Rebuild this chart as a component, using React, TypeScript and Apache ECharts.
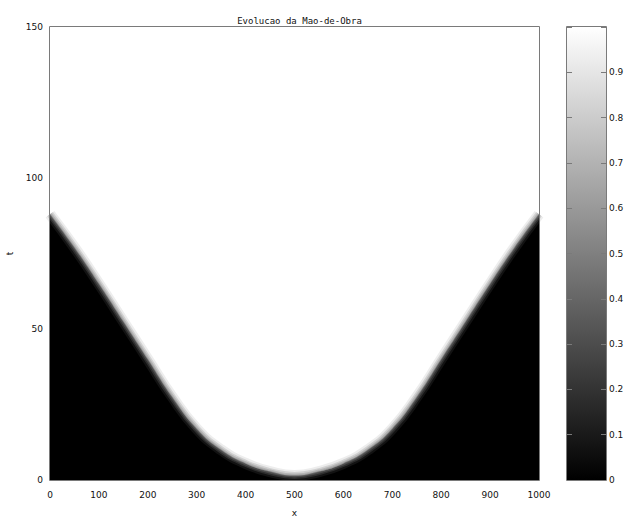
import React, { useEffect, useRef } from "react";
import * as echarts from "echarts";

// Front position t(x) of the labour field (black below, white above)
const xPositions = [0, 50, 100, 150, 200, 250, 300, 350, 400, 450, 500, 550, 600, 650, 700, 750, 800, 850, 900, 950, 1000];
const frontT = [88, 77, 65, 52.5, 40, 27.5, 17, 10, 5.5, 2.8, 1.5, 2.8, 5.5, 10, 17, 27.5, 40, 52.5, 65, 77, 88];

// Colour scale bar
const scaleCategories = [""];
const scaleValues = [1];

const TITLE = "Evolucao da Mao-de-Obra";

const PLOT = { left: 50, top: 27, width: 489, height: 453 };
const BAR = { left: 567, top: 27, width: 39, height: 453 };
const FRAME = "#7a7a7a";
const LABEL_FONT = { fontFamily: "DejaVu Sans", fontSize: 9, color: "#111" };

// Soft edge of the front: translucent grey strokes layered over the hard edge
const EDGE_STROKES = [
  { width: 11, opacity: 0.14 },
  { width: 7, opacity: 0.26 },
  { width: 4, opacity: 0.35 },
  { width: 1.5, opacity: 0.45 },
];

export default function App() {
  const ref = useRef<HTMLDivElement>(null);

  useEffect(() => {
    if (!ref.current) return;
    const chart = echarts.init(ref.current, undefined, { renderer: "svg" });

    const frontData = xPositions.map((x, i) => [x, frontT[i]]);

    const edgeSeries = EDGE_STROKES.map((s) => ({
      type: "line",
      xAxisIndex: 0,
      yAxisIndex: 0,
      data: frontData,
      smooth: 0.5,
      showSymbol: false,
      clip: true,
      silent: true,
      lineStyle: { color: "#808080", width: s.width, opacity: s.opacity, cap: "butt" },
    }));

    const option = {
      animation: false,
      backgroundColor: "#ffffff",
      title: {
        text: TITLE,
        left: PLOT.left + PLOT.width / 2,
        textAlign: "center",
        top: 11,
        textStyle: { fontFamily: "DejaVu Sans Mono", fontSize: 9, fontWeight: "normal", color: "#111" },
      },
      grid: [
        { left: PLOT.left, top: PLOT.top, width: PLOT.width, height: PLOT.height, containLabel: false, outerBoundsMode: "none" },
        { left: BAR.left, top: BAR.top, width: BAR.width, height: BAR.height, containLabel: false, outerBoundsMode: "none" },
      ],
      xAxis: [
        {
          gridIndex: 0,
          type: "value",
          min: 0,
          max: 1000,
          interval: 100,
          name: "x",
          nameLocation: "middle",
          nameGap: 28,
          nameTextStyle: { ...LABEL_FONT },
          axisLine: { show: false },
          axisTick: { show: false },
          splitLine: { show: false },
          axisLabel: { ...LABEL_FONT, margin: 10, formatter: (v: number) => String(v) },
        },
        {
          gridIndex: 1,
          type: "category",
          data: scaleCategories,
          show: false,
        },
      ],
      yAxis: [
        {
          gridIndex: 0,
          type: "value",
          min: 0,
          max: 150,
          interval: 50,
          name: "t",
          nameLocation: "middle",
          nameGap: 36,
          nameTextStyle: { ...LABEL_FONT },
          axisLine: { show: false },
          axisTick: { show: false },
          splitLine: { show: false },
          axisLabel: { ...LABEL_FONT, margin: 7, formatter: (v: number) => String(v) },
        },
        {
          gridIndex: 1,
          type: "value",
          position: "right",
          min: 0,
          max: 1,
          interval: 0.1,
          z: 10,
          axisLine: { show: false },
          splitLine: { show: false },
          axisTick: { show: true, inside: true, length: 5, lineStyle: { color: FRAME } },
          axisLabel: {
            ...LABEL_FONT,
            margin: 3,
            formatter: (v: number) => (v >= 0.999 ? "" : v === 0 ? "0" : v.toFixed(1)),
          },
        },
        {
          gridIndex: 1,
          type: "value",
          position: "left",
          min: 0,
          max: 1,
          interval: 0.1,
          z: 10,
          axisLine: { show: false },
          splitLine: { show: false },
          axisTick: { show: true, inside: true, length: 5, lineStyle: { color: FRAME } },
          axisLabel: { show: false },
        },
      ],
      series: [
        {
          type: "line",
          xAxisIndex: 0,
          yAxisIndex: 0,
          data: frontData,
          smooth: 0.5,
          showSymbol: false,
          clip: true,
          lineStyle: { width: 0 },
          areaStyle: { color: "#000000", opacity: 1, origin: "start" },
          silent: true,
        },
        ...edgeSeries,
        {
          type: "bar",
          xAxisIndex: 1,
          yAxisIndex: 1,
          data: scaleValues,
          barWidth: "100%",
          barCategoryGap: 0,
          silent: true,
          itemStyle: {
            color: new echarts.graphic.LinearGradient(0, 1, 0, 0, [
              { offset: 0, color: "#000000" },
              { offset: 1, color: "#ffffff" },
            ]),
          },
        },
      ],
      graphic: [
        {
          type: "rect",
          z: 100,
          silent: true,
          shape: { x: PLOT.left - 0.5, y: PLOT.top - 0.5, width: PLOT.width + 1, height: PLOT.height + 1 },
          style: { fill: "none", stroke: FRAME, lineWidth: 1 },
        },
        {
          type: "rect",
          z: 100,
          silent: true,
          shape: { x: BAR.left - 0.5, y: BAR.top - 0.5, width: BAR.width + 1, height: BAR.height + 1 },
          style: { fill: "none", stroke: FRAME, lineWidth: 1 },
        },
      ],
    };

    chart.setOption(option as any);
    return () => chart.dispose();
  }, []);

  return (
    <div
      ref={ref}
      style={{ position: "fixed", left: 0, top: 0, width: 629, height: 516 }}
    />
  );
}
